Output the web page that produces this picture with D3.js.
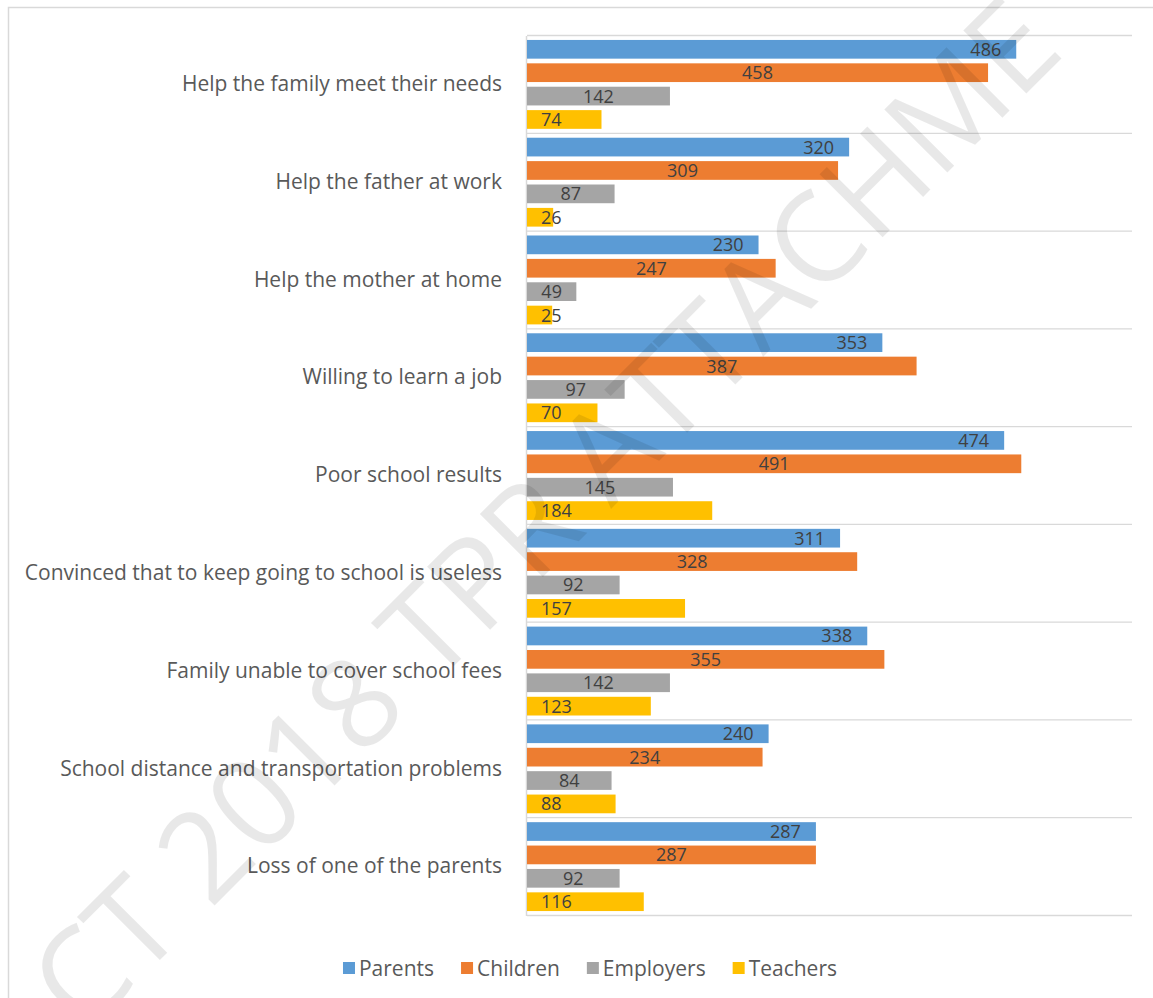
<!DOCTYPE html>
<html>
<head>
<meta charset="utf-8">
<script src="https://cdn.jsdelivr.net/npm/d3@7"></script>
<style>
  html, body { margin: 0; padding: 0; background: #fff; }
  svg { display: block; }
</style>
</head>
<body>
<svg id="chart" width="1153" height="998"></svg>
<script>
// Reasons for leaving school, as reported by each respondent group
const categories = [
  "Help the family meet their needs",
  "Help the father at work",
  "Help the mother at home",
  "Willing to learn a job",
  "Poor school results",
  "Convinced that to keep going to school is useless",
  "Family unable to cover school fees",
  "School distance and transportation problems",
  "Loss of one of the parents"
];
const seriesNames = ["Parents", "Children", "Employers", "Teachers"];
const parents   = [486, 320, 230, 353, 474, 311, 338, 240, 287];
const children  = [458, 309, 247, 387, 491, 328, 355, 234, 287];
const employers = [142,  87,  49,  97, 145,  92, 142,  84,  92];
const teachers  = [ 74,  26,  25,  70, 184, 157, 123,  88, 116];
const valueTicks = [0, 100, 200, 300, 400, 500, 600];

const seriesValues = [parents, children, employers, teachers];
const seriesColors = ["#5B9BD5", "#ED7D31", "#A5A5A5", "#FFC000"];
// where each series puts its value label inside the bar
const labelPlacement = ["end", "center", "center", "base"];

const FONT = "'Open Sans', 'Noto Sans', sans-serif";
const svg = d3.select("#chart");

// outer chart frame
svg.append("rect")
  .attr("x", 8.5).attr("y", 7.5)
  .attr("width", 1300).attr("height", 1200)
  .attr("fill", "#fff")
  .attr("stroke", "#d9d9d9").attr("stroke-width", 1.5);

const x = d3.scaleLinear()
  .domain([valueTicks[0], valueTicks[valueTicks.length - 1]])
  .range([527, 1131]);

const y = d3.scaleBand()
  .domain(categories)
  .range([35.5, 915.5])
  .padding(0);

const yInner = d3.scaleBand()
  .domain(seriesNames)
  .range([0, y.bandwidth()])
  .paddingInner(0.2)
  .paddingOuter(0.19);

// horizontal separators between categories
const bounds = categories.map(c => y(c)).concat([y.range()[1]]);
svg.append("g").selectAll("line")
  .data(bounds)
  .join("line")
  .attr("x1", x(0)).attr("x2", 1132)
  .attr("y1", d => d).attr("y2", d => d)
  .attr("stroke", "#d9d9d9").attr("stroke-width", 1.3);

// category axis
const yAxis = svg.append("g")
  .attr("transform", `translate(${x(0) - 1},0)`)
  .call(d3.axisLeft(y).tickSize(0).tickPadding(24));
yAxis.select(".domain").attr("stroke", "#d9d9d9").attr("stroke-width", 1.5);
yAxis.selectAll("text")
  .attr("font-family", FONT)
  .attr("font-size", 21)
  .attr("fill", "#595959");

// rows of (category, series, value)
const rows = [];
categories.forEach((c, i) => {
  seriesNames.forEach((s, j) => {
    rows.push({ cat: c, series: s, si: j, value: seriesValues[j][i] });
  });
});

const barG = svg.append("g");
barG.selectAll("rect")
  .data(rows)
  .join("rect")
  .attr("x", x(0))
  .attr("y", d => y(d.cat) + yInner(d.series))
  .attr("width", d => x(d.value) - x(0))
  .attr("height", yInner.bandwidth())
  .attr("fill", d => seriesColors[d.si]);

// value labels
barG.selectAll("text")
  .data(rows)
  .join("text")
  .attr("font-family", FONT)
  .attr("font-size", 18)
  .attr("fill", "#404040")
  .attr("dy", "0.36em")
  .attr("y", d => y(d.cat) + yInner(d.series) + yInner.bandwidth() / 2)
  .attr("x", d => {
    const p = labelPlacement[d.si];
    if (p === "end") return x(d.value) - 15;
    if (p === "center") return (x(0) + x(d.value)) / 2;
    return x(0) + 14;
  })
  .attr("text-anchor", d => {
    const p = labelPlacement[d.si];
    return p === "end" ? "end" : p === "center" ? "middle" : "start";
  })
  .text(d => d.value);

// legend
const legend = svg.append("g");
const items = legend.selectAll("g")
  .data(seriesNames)
  .join("g");
items.append("rect")
  .attr("width", 12).attr("height", 12)
  .attr("y", -6)
  .attr("fill", (d, i) => seriesColors[i]);
items.append("text")
  .attr("x", 16)
  .attr("dy", "0.36em")
  .attr("font-family", FONT)
  .attr("font-size", 21)
  .attr("fill", "#595959")
  .text(d => d);
let cursor = 0;
items.each(function () {
  const g = d3.select(this);
  g.attr("transform", `translate(${cursor},0)`);
  const w = 16 + g.select("text").node().getComputedTextLength();
  cursor += w + 27;
});
const legendWidth = cursor - 27;
legend.attr("transform", `translate(${590 - legendWidth / 2},968)`);

// diagonal watermark across the page
svg.append("text")
  .attr("transform", "translate(84,1036) rotate(-45)")
  .attr("font-family", FONT)
  .attr("font-size", 125)
  .attr("textLength", 1390)
  .attr("lengthAdjust", "spacing")
  .attr("fill", "#000")
  .attr("fill-opacity", 0.09)
  .attr("pointer-events", "none")
  .text("CT 2018 TPR ATTACHME");
</script>
</body>
</html>
